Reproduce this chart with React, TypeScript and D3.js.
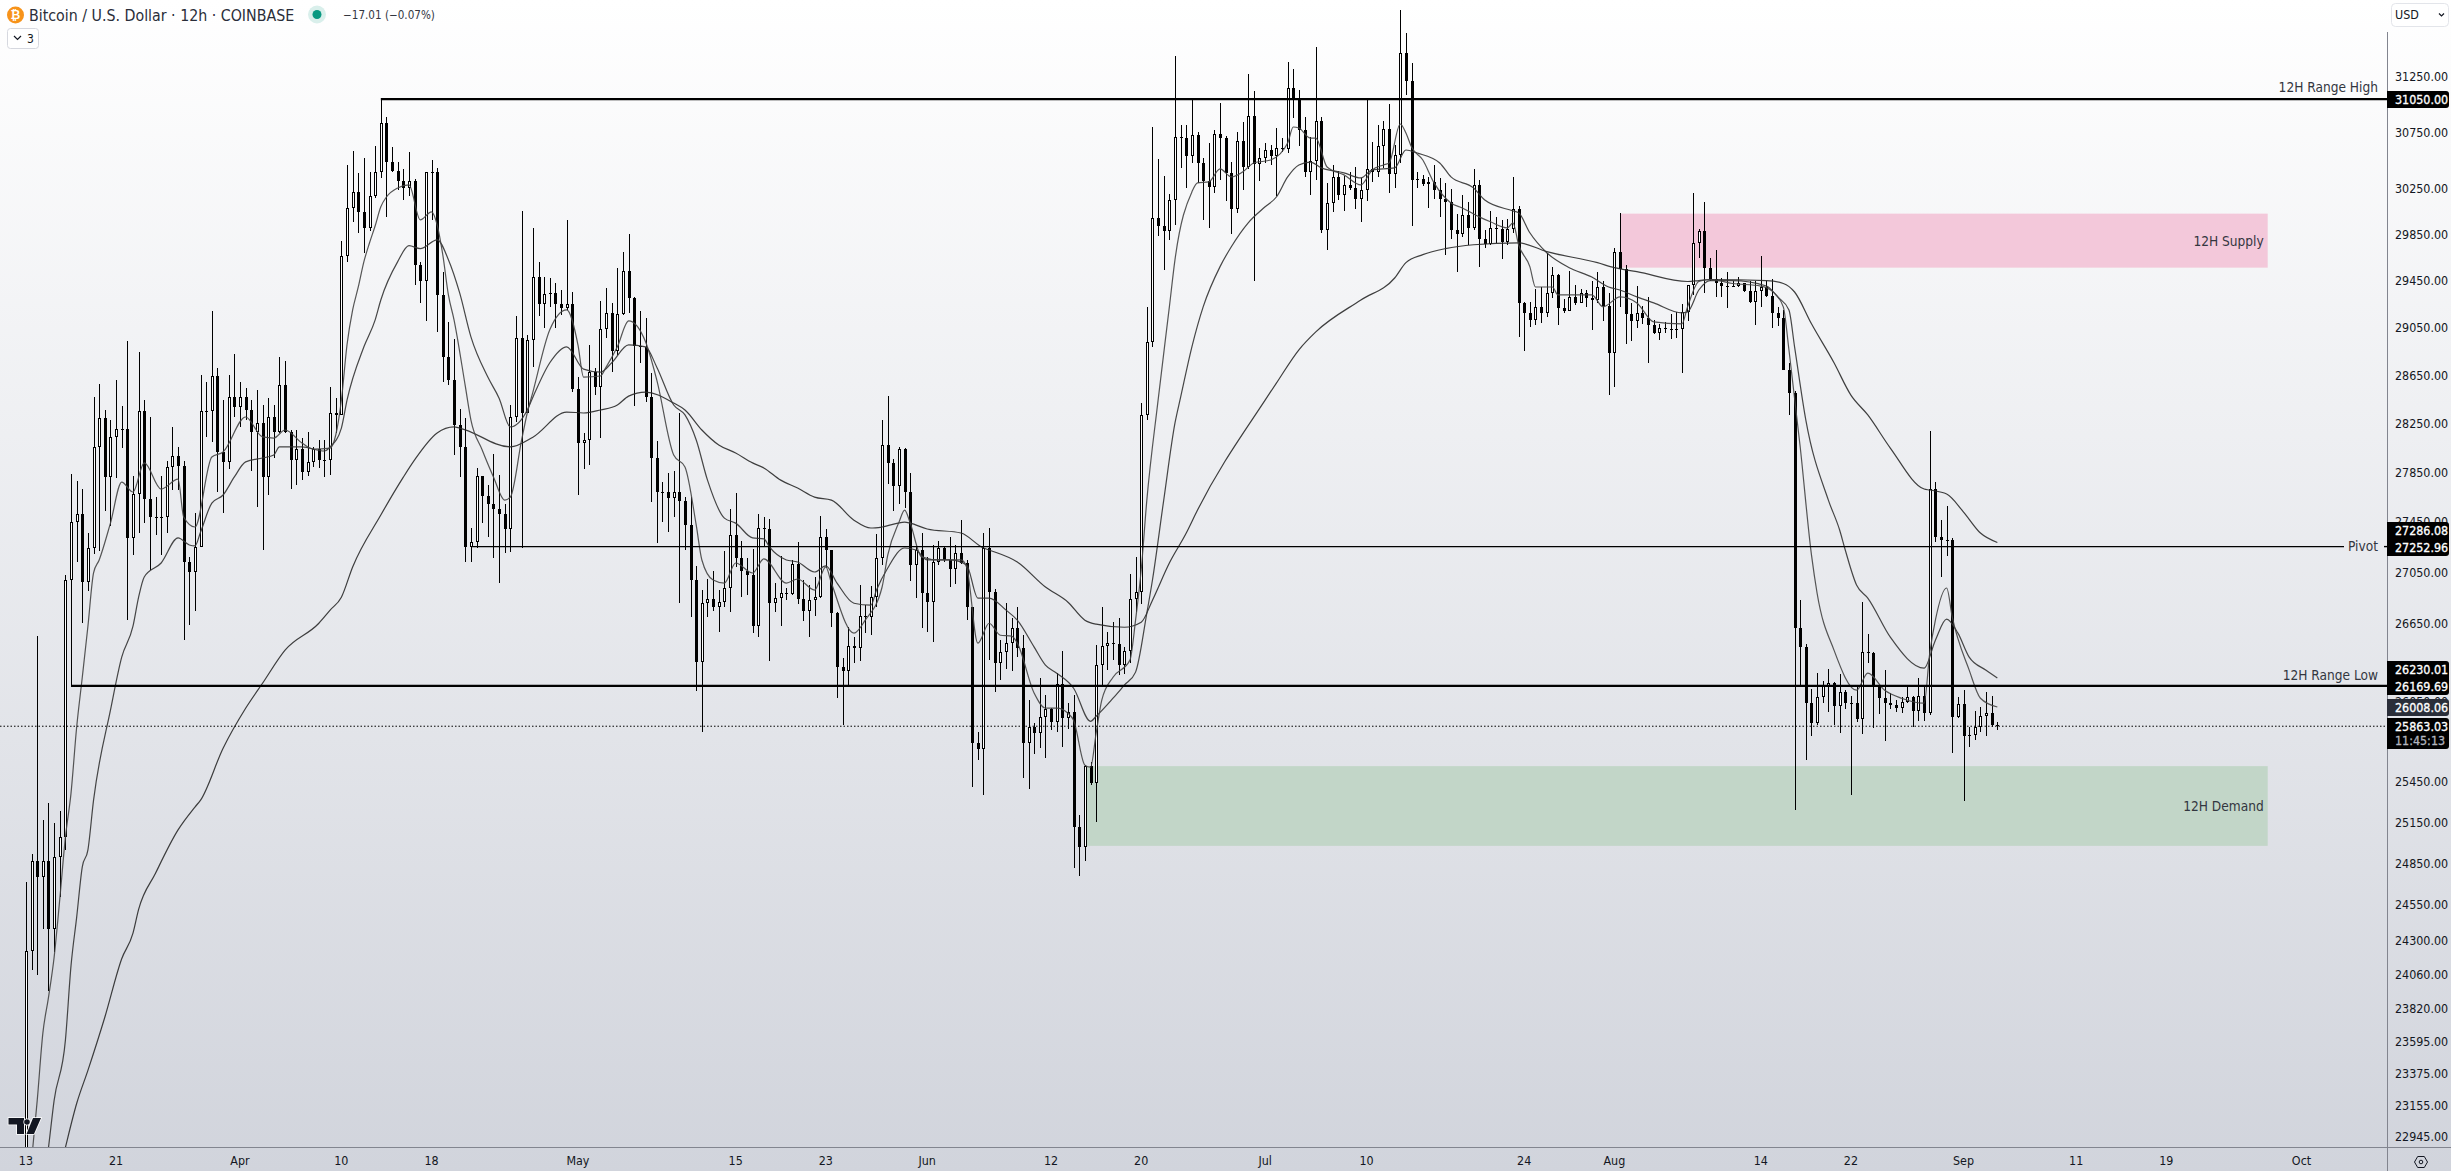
import React from "react";
import * as d3 from "d3";

// 12h BTC candles, starting 13 Mar; each bar opens at the previous close
const firstOpen = 22600;
const closes = [
  24224,24869,24754,24869,24378,24898,25042,26989,27448,27513,
  26973,27242,28056,28294,27812,28138,28203,28203,27322,27674,
  28352,27633,27489,27489,27489,27893,27982,27901,27131,27052,
  27250,28352,28352,28641,28015,27934,28467,28385,28467,28360,
  28179,28252,27812,28302,28179,28566,28179,27950,28039,27853,
  27934,28039,27950,27950,28335,28319,29664,30080,30221,30046,
  29906,30185,30397,30834,30485,30406,30317,30256,30317,29587,
  29442,30397,30397,29327,28803,28608,28236,28056,27250,27290,
  27820,27657,27593,27553,27513,27393,28302,28963,28335,28946,
  29480,29250,29335,29344,29250,29217,29250,28533,28088,28113,
  28674,28550,29038,29174,28854,29165,29535,29301,28896,28887,
  28467,27966,27690,27690,27641,27690,27617,27424,26989,26351,
  26807,26839,26776,26815,26926,27345,27163,27060,27028,26628,
  27401,27393,26807,26847,26886,26878,27115,26839,26745,26831,
  26855,27329,27226,26730,26312,26281,26474,26458,26706,26698,
  26855,27163,28072,27926,27738,28039,27690,27108,27226,26886,
  26815,27131,27242,27147,27076,27202,27123,26776,25735,25690,
  27242,26894,26343,26428,26497,26612,26458,25735,25855,25810,
  25931,25992,25893,26182,25923,25969,25115,24970,25564,25438,
  26328,26474,26497,26489,26328,26435,26839,26894,28319,28929,
  29993,29924,29880,30150,30708,30699,30539,30726,30477,30317,
  30264,30735,30699,30389,30072,30672,30441,30897,30468,30521,
  30592,30539,30610,30601,31150,31059,30771,30397,30494,30852,
  29889,30124,30353,30194,30282,30256,30159,30238,30424,30397,
  30627,30780,30380,30548,31470,31214,30326,30335,30291,30309,
  30238,30159,30133,29889,29854,30020,29906,30282,29811,29768,
  29906,29898,29785,29898,30072,29259,29174,29115,29225,29174,
  29344,29497,29217,29191,29310,29259,29344,29301,29284,29395,
  29233,28837,29699,29553,29165,29106,29174,29132,29072,29005,
  29047,29038,29038,29038,29182,29412,29776,29880,29561,29467,
  29425,29403,29403,29403,29425,29361,29267,29361,29395,29318,
  29174,29132,28691,28500,26613,26466,26037,25885,26083,26166,
  26189,26014,26121,26037,26037,25916,26428,26420,26159,26075,
  26037,26022,25999,26045,26083,25976,26090,25961,27714,27329,
  27306,27306,25931,26030,25788,25795,25855,25938,25961,25870,25863,
];
const highs = [
  24712,24919,26550,25166,25290,25144,25232,27028,27836,27778,
  27713,27361,28467,28575,28360,28277,28608,28393,28938,27820,
  28845,28442,28303,27649,27820,27942,28220,28056,27942,27171,
  27521,28649,28591,29191,28711,28442,28649,28829,28591,28542,
  28442,28525,28401,28458,28401,28803,28770,28195,28195,28129,
  28179,28056,28113,28113,28550,28458,29793,30459,30583,30389,
  30522,30397,30627,31050,30888,30618,30485,30424,30574,30335,
  29613,30397,30503,30433,29527,29098,28954,28368,28294,27400,
  27885,27820,27746,27998,27828,27593,28401,29149,30054,28988,
  29906,29613,29480,29476,29425,29369,29976,29352,28633,28170,
  28904,28708,29275,29386,29259,29561,29699,29854,29310,29191,
  29132,28666,28105,27770,27845,27861,28335,27649,27649,27100,
  26910,26997,27060,26910,27218,27553,27682,27298,27163,27234,
  27513,27489,27472,26965,27179,26926,27147,27290,26989,26950,
  27013,27497,27393,27226,26737,26381,26620,26543,26950,26792,
  26942,27353,28277,28475,27958,28056,28047,27845,27250,27361,
  27171,27266,27298,27250,27329,27266,27464,27147,26776,25818,
  27361,27401,26918,26520,26807,26690,26776,26558,26060,25885,
  26228,26098,25999,26266,26435,26037,26098,25203,25571,25593,
  26481,26776,26582,26659,26690,26466,27036,27171,28417,29225,
  30798,30512,30362,30203,31442,30816,30816,31041,30753,30521,
  30654,30771,31014,30717,30485,30753,30843,31277,31123,30610,
  30654,30636,30789,30699,31387,31323,31132,30888,30708,31526,
  30888,30300,30459,30406,30362,30397,30441,30344,31041,30663,
  30816,30852,31005,30636,31866,31650,31377,30397,30371,30353,
  30459,30344,30300,30247,30028,30194,30133,30424,30326,29889,
  30054,30002,29976,29985,30353,30098,29267,29267,29378,29395,
  29690,29570,29505,29293,29536,29412,29378,29369,29442,29527,
  29442,29344,29733,30037,29587,29259,29403,29233,29310,29115,
  29081,29098,29165,29182,29250,29412,30212,29898,30133,29648,
  29716,29476,29527,29442,29480,29433,29442,29450,29665,29442,
  29467,29225,29199,28753,28517,26831,26489,26144,26266,26204,
  26297,26197,26258,26136,26090,26174,26815,26566,26428,26166,
  26289,26113,26060,26083,26166,26090,26227,26174,28187,27770,
  27464,27577,27322,26083,26136,25855,25976,26007,26121,26090,25893,
];
const lows = [
  22500,24092,24057,24378,23940,24217,24604,24948,26166,27131,
  26652,26902,27194,27218,27537,27416,27803,28047,26675,27186,
  27361,27440,27068,27345,27186,27361,27706,27706,26520,26636,
  26745,27266,28138,28097,27690,27521,27877,28302,28220,28277,
  27861,27569,27226,27666,27966,28170,28170,27714,27746,27786,
  27820,27893,27885,27812,27828,28170,28319,29613,29959,29863,
  29690,29880,30168,30345,30002,30397,30238,30150,30185,29408,
  29259,29107,29976,29013,28591,28566,27990,27812,27131,27131,
  27242,27440,27329,27163,26965,27202,27210,28261,27242,28385,
  28716,29149,29047,29225,29047,29157,29199,28508,27666,27877,
  27909,28483,28129,28963,28674,28820,29157,29174,28393,28753,
  28425,27609,27282,27448,27369,27489,26807,27226,26698,26128,
  25818,26698,26745,26582,26776,26737,27092,26855,26870,26574,
  26543,27250,26358,26737,26628,26831,26870,26800,26667,26543,
  26706,26847,27084,26620,26075,25870,26174,26343,26358,26574,
  26558,26776,27108,27754,27537,27593,27561,26981,26847,26612,
  26582,26505,27108,27131,26934,26958,27115,26675,25408,25608,
  25349,26366,26121,26212,26297,26281,26389,25475,25394,25653,
  25698,25623,25833,25818,25705,25840,24819,24755,24869,25423,
  25151,26174,26289,26366,26250,26258,26343,26737,26800,28277,
  28887,29837,29544,29802,29932,30433,30256,30477,30300,29976,
  29906,30212,30326,30141,29854,30037,30238,30424,29442,30317,
  30477,30459,30185,30574,30565,30879,30627,30353,30194,30326,
  29863,29716,30046,30150,30054,30238,30072,29959,30141,30308,
  30353,30433,30212,30256,30477,31086,29924,30256,30273,30080,
  30159,30002,29673,29811,29527,29828,29759,29889,29570,29733,
  29759,29776,29639,29759,29863,28971,28854,29055,29072,29089,
  29140,29301,29072,29174,29191,29242,29267,29225,29030,29259,
  29106,28483,28550,29225,28912,28938,29047,29081,28753,28997,
  28946,29005,28954,28963,28666,29106,29327,29648,29344,29442,
  29310,29310,29217,29395,29395,29352,29259,29072,29225,29310,
  29047,29064,28691,28319,25239,26159,25608,25788,25870,26037,
  25969,25870,25810,25992,25349,25893,25803,26343,25848,25954,
  25750,25992,25969,25961,26037,25855,25901,25901,25946,27290,
  27013,27179,25660,25923,25305,25705,25758,25818,25788,25855,25833,
];

// moving averages: bar number and price, read at the bends of each line
const fastBars = [1,2,3,4,5,6,7,8,9,10,11,12,13,15,17,19,21,24,27,28,30,33,35,39,42,44,46,49,51,54,55,56,57,58,59,60,61,62,63,64,66,68,70,72,73,74,75,76,78,79,81,83,85,86,88,89,90,93,96,98,99,102,103,105,107,110,112,115,117,119,120,122,124,126,129,131,135,137,140,142,143,147,149,152,153,155,156,157,159,162,166,167,169,171,173,175,176,179,181,183,185,186,188,189,190,191,193,196,197,198,199,201,203,204,207,208,210,212,214,216,218,221,224,225,226,228,229,231,234,237,239,241,242,244,245,246,248,250,253,255,258,260,263,264,265,267,268,271,272,278,280,283,286,289,294,295,297,299,303,308,310,312,313,315,317,318,321,325,327,330,333,337,338,339,341,342,345,347,350];
const fastValues = [22790,23191,23650,23898,24179,24590,25039,25364,25855,26235,26628,27045,27147,27440,27770,27690,27926,27714,27794,27489,27409,27974,28015,28302,28138,28129,28195,28088,28039,28047,28154,28442,28904,29199,29395,29613,29776,29924,30090,30176,30256,30282,29976,30046,29932,29673,29327,29115,28558,28277,28031,27812,27625,27649,28113,28335,28508,29030,29199,28904,28633,28642,28716,28887,29106,28929,28608,27990,27893,27424,27147,26989,26965,27123,27044,27155,26965,26997,26910,27092,26965,26574,26675,26934,27186,27448,27545,27440,27171,27147,27147,27092,26497,26651,26558,26551,26497,26113,26000,26000,25961,25908,25571,25556,25810,26060,26235,26366,26675,27068,27625,28442,29225,29630,30221,30300,30309,30424,30353,30397,30477,30503,30654,30798,30789,30699,30699,30441,30371,30282,30415,30459,30477,30825,30744,30618,30503,30300,30124,30080,30002,29959,29906,29950,29759,29570,29395,29395,29327,29327,29225,29310,29259,29098,29081,29225,29442,29459,29425,29403,29361,29225,28862,28056,27187,26885,26443,26136,26266,26136,26075,26037,26420,26675,26926,26698,26289,26075,26008];
const midBars = [3,4,5,7,8,9,10,11,12,15,17,19,20,21,24,27,29,30,31,33,35,37,39,42,44,45,49,53,54,56,57,60,62,63,66,68,70,73,75,77,79,82,84,86,89,90,93,96,99,102,104,107,110,112,115,117,119,121,124,126,129,131,132,135,137,140,142,144,147,150,151,153,156,158,160,164,167,169,171,174,176,179,181,183,186,189,190,193,195,197,199,200,202,204,205,207,209,212,214,217,220,222,224,226,228,230,234,237,239,243,245,247,251,253,257,259,264,265,267,270,274,278,281,283,286,289,294,295,297,299,303,309,311,313,314,316,320,322,323,325,327,331,337,339,341,343,345,348,350];
const midValues = [22590,22875,23191,23600,24120,24462,24825,24948,25312,25984,26389,26628,26854,27013,27123,27322,27266,27258,27369,27601,27666,27812,27934,27966,27990,28056,28056,28023,28056,28211,28442,28887,29115,29284,29613,29751,29725,29802,29630,29344,28971,28633,28458,28220,28360,28466,28753,28887,28700,28674,28753,28904,28887,28716,28401,28319,28113,27786,27480,27440,27322,27314,27250,27147,27131,27052,27100,26965,26807,26792,26910,27084,27242,27226,27147,27147,27108,26847,26847,26753,26675,26466,26328,26266,26151,25900,25938,26075,26174,26274,26730,26989,27625,28253,28466,28887,29225,29570,29742,29950,30090,30176,30353,30459,30485,30433,30389,30344,30415,30433,30592,30565,30477,30353,30256,30150,30054,30037,29863,29690,29561,29480,29395,29369,29310,29259,29174,29182,29369,29450,29450,29403,29310,29199,28887,28277,27625,27385,27226,26950,26847,26543,26304,26520,26683,26574,26389,26289,26230];
const slowBars = [6,7,9,11,14,17,19,20,23,27,30,31,35,39,42,46,52,54,56,58,63,67,69,73,76,77,86,90,96,99,102,105,107,110,115,117,120,123,126,129,131,134,137,140,143,147,150,152,156,157,160,166,170,171,176,181,185,188,190,195,198,200,203,206,208,220,222,226,229,237,243,245,248,252,257,265,270,279,282,286,295,297,299,309,312,314,317,321,324,327,331,337,338,341,344,347,350];
const slowValues = [22720,22875,23170,23395,23760,24169,24350,24519,24778,25093,25261,25312,25698,25999,26189,26443,26651,26753,26854,27092,27505,27810,27950,28170,28220,28211,28056,28136,28343,28335,28360,28401,28475,28508,28417,28360,28195,28072,28007,27926,27885,27786,27722,27649,27625,27464,27401,27409,27448,27440,27393,27361,27242,27226,27131,26934,26815,26675,26644,26620,26659,26831,27123,27361,27545,28442,28583,28862,29013,29284,29472,29604,29673,29725,29759,29776,29699,29604,29561,29527,29442,29450,29459,29450,29425,29352,29081,28753,28483,28319,28047,27714,27706,27674,27529,27361,27286];

// price axis and time axis labels
const priceTicks = [31250,30750,30250,29850,29450,29050,28650,28250,27850,27450,27050,26650,26250,26050,25450,25150,24850,24550,24300,24060,23820,23595,23375,23155,22945];
const timeTicks: [string, string][] = [
  ["2023-03-13","13"],["2023-03-21","21"],["2023-04-01","Apr"],["2023-04-10","10"],["2023-04-18","18"],
  ["2023-05-01","May"],["2023-05-15","15"],["2023-05-23","23"],["2023-06-01","Jun"],["2023-06-12","12"],
  ["2023-06-20","20"],["2023-07-01","Jul"],["2023-07-10","10"],["2023-07-24","24"],["2023-08-01","Aug"],
  ["2023-08-14","14"],["2023-08-22","22"],["2023-09-01","Sep"],["2023-09-11","11"],["2023-09-19","19"],["2023-10-01","Oct"],
];

const W = 2451;
const H = 1171;
const plotRight = 2387;
const plotBottom = 1147;
const font = '"DejaVu Sans Condensed", "DejaVu Sans", sans-serif';

const x = d3.scaleUtc()
  .domain([new Date("2023-04-01T00:00Z"), new Date("2023-10-01T00:00Z")])
  .range([240, 2301.5]);
const y = d3.scaleLog().domain([22945, 31250]).range([1137, 77]);

const start = new Date("2023-03-13T00:00Z");
const barDate = (i: number) => d3.utcHour.offset(start, i * 12);
const bars = closes.map((close, i) => ({
  date: barDate(i),
  open: i === 0 ? firstOpen : closes[i - 1],
  close,
  high: highs[i],
  low: lows[i],
}));

const emaPath = (barIdx: number[], values: number[]) =>
  d3.line<number>()
    .x((b) => x(barDate(b)))
    .y((_, i) => y(values[i]))
    .curve(d3.curveMonotoneX)(barIdx) as string;

const Badge = ({ top, bottom, fill = "#000" }: { top: number; bottom: number; fill?: string }) => (
  <path
    d={`M${plotRight} ${top}H2446a3 3 0 0 1 3 3V${bottom - 3}a3 3 0 0 1 -3 3H${plotRight}Z`}
    fill={fill}
  />
);

const AxisText = ({ py, text, fill = "#131722", bold = false }: { py: number; text: string; fill?: string; bold?: boolean }) => (
  <text
    x={2395}
    y={py}
    dy="0.36em"
    fontSize={12.4}
    fill={fill}
    stroke={bold ? fill : "none"}
    strokeWidth={bold ? 0.3 : 0}
    fontFamily={font}
    fontStretch="condensed"
  >
    {text}
  </text>
);

export default function App() {
  const supplyLeft = x(barDate(283));
  const demandLeft = x(barDate(188));
  const zoneRight = x(new Date("2023-09-28T00:00Z"));
  return (
    <svg width={W} height={H} style={{ position: "fixed", left: 0, top: 0, display: "block" }} fontFamily={font}>
      <defs>
        <linearGradient id="bg" x1="0" y1="0" x2="0" y2="1">
          <stop offset="0" stopColor="#ffffff" />
          <stop offset="1" stopColor="#d1d4dc" />
        </linearGradient>
        <clipPath id="plot">
          <rect x={0} y={0} width={plotRight} height={plotBottom} />
        </clipPath>
      </defs>
      <rect width={W} height={H} fill="url(#bg)" />

      {/* supply and demand zones */}
      <rect x={supplyLeft} y={y(30030)} width={zoneRight - supplyLeft} height={y(29561) - y(30030)} fill="#f3c8da" />
      <rect x={demandLeft} y={y(25564)} width={zoneRight - demandLeft} height={y(24977) - y(25564)} fill="#c2d6c8" />

      {/* candles */}
      <g clipPath="url(#plot)" shapeRendering="crispEdges">
        {bars.map((d, i) => {
          const cx = Math.round(x(d.date));
          const up = d.close >= d.open;
          const top = Math.round(y(Math.max(d.open, d.close)));
          const bottom = Math.round(y(Math.min(d.open, d.close)));
          return (
            <g key={i}>
              <rect x={cx} y={y(d.high)} width={1} height={y(d.low) - y(d.high)} fill="#000" />
              <rect x={cx - 1} y={top} width={3} height={Math.max(bottom - top, 1)} fill="#000" />
              {up && bottom - top > 2 && (
                <rect x={cx} y={top + 1} width={1} height={bottom - top - 2} fill="#fff" />
              )}
            </g>
          );
        })}
      </g>

      {/* moving averages */}
      <g clipPath="url(#plot)" fill="none" strokeWidth={1.2} strokeOpacity={0.9}>
        <path d={emaPath(slowBars, slowValues)} stroke="#2a2a2a" />
        <path d={emaPath(midBars, midValues)} stroke="#333333" />
        <path d={emaPath(fastBars, fastValues)} stroke="#444444" />
      </g>

      {/* drawn levels */}
      <line x1={x(barDate(63))} x2={plotRight} y1={y(31050)} y2={y(31050)} stroke="#000" strokeWidth={2.2} />
      <line x1={x(barDate(79))} x2={2344} y1={y(27252.96)} y2={y(27252.96)} stroke="#000" strokeWidth={1.4} />
      <line x1={2384} x2={plotRight} y1={y(27252.96)} y2={y(27252.96)} stroke="#000" strokeWidth={1.4} />
      <line x1={x(barDate(8))} x2={plotRight} y1={y(26169.69)} y2={y(26169.69)} stroke="#000" strokeWidth={2.2} />
      <line x1={0} x2={plotRight} y1={y(25863.03)} y2={y(25863.03)} stroke="#000" strokeWidth={1} strokeDasharray="1.5 2" />

      <g fontSize={13.6} fill="#33363f" textAnchor="end" fontStretch="condensed">
        <text x={2378} y={87} dy="0.36em">12H Range High</text>
        <text x={2378} y={y(27252.96)} dy="0.36em">Pivot</text>
        <text x={2378} y={675} dy="0.36em">12H Range Low</text>
        <text x={zoneRight - 4} y={(y(30030) + y(29561)) / 2} dy="0.36em">12H Supply</text>
        <text x={zoneRight - 4} y={(y(25564) + y(24977)) / 2} dy="0.36em">12H Demand</text>
      </g>

      {/* axes */}
      <line x1={plotRight + 0.5} x2={plotRight + 0.5} y1={32} y2={H} stroke="#82858f" strokeWidth={1} />
      <line x1={0} x2={W} y1={plotBottom + 0.5} y2={plotBottom + 0.5} stroke="#82858f" strokeWidth={1} />
      {priceTicks.map((p) => (
        <AxisText key={p} py={y(p)} text={p.toFixed(2)} />
      ))}
      {timeTicks.map(([date, label], i) => (
        <text key={i} x={x(new Date(date + "T00:00Z"))} y={1161} dy="0.36em" fontSize={12.4} fill="#131722" textAnchor="middle" fontStretch="condensed">
          {label}
        </text>
      ))}

      {/* last value tags */}
      <Badge top={91} bottom={108} />
      <AxisText py={99.5} text="31050.00" fill="#fff" bold />
      <Badge top={522} bottom={556} />
      <AxisText py={531} text="27286.08" fill="#fff" bold />
      <AxisText py={548} text="27252.96" fill="#fff" bold />
      <Badge top={661} bottom={695} />
      <AxisText py={670} text="26230.01" fill="#fff" bold />
      <AxisText py={687} text="26169.69" fill="#fff" bold />
      <Badge top={699} bottom={716} fill="#2a2e39" />
      <AxisText py={707.5} text="26008.06" fill="#fff" bold />
      <Badge top={718} bottom={749} />
      <AxisText py={727} text="25863.03" fill="#fff" bold />
      <AxisText py={741} text="11:45:13" fill="#b2b5be" bold />

      {/* header */}
      <circle cx={15.5} cy={15} r={8.5} fill="#f7931a" />
      <text x={15.5} y={15} dy="0.36em" fontSize={12} fontWeight={700} fill="#fff" textAnchor="middle">₿</text>
      <text x={29} y={15} dy="0.36em" fontSize={15.8} fill="#2a2e39" fontStretch="condensed">Bitcoin / U.S. Dollar · 12h · COINBASE</text>
      <circle cx={317} cy={14.5} r={9} fill="#d9efeb" />
      <circle cx={317} cy={14.5} r={4.5} fill="#089981" />
      <text x={343} y={15} dy="0.36em" fontSize={11.6} fill="#33363f" fontStretch="condensed">−17.01 (−0.07%)</text>
      <rect x={7.5} y={28.5} width={31} height={20} rx={3} fill="#fff" stroke="#d6d8df" />
      <path d="M14 36l3.5 3.5 3.5-3.5" fill="none" stroke="#131722" strokeWidth={1.2} />
      <text x={27} y={39} dy="0.36em" fontSize={12} fill="#131722">3</text>

      {/* currency button */}
      <rect x={2391.5} y={3.5} width={57} height={23} rx={4} fill="#fff" stroke="#e3e5ea" />
      <text x={2395} y={15} dy="0.36em" fontSize={12.4} fill="#131722" fontStretch="condensed">USD</text>
      <path d="M2439 13.5l2.5 2.5 2.5-2.5" fill="none" stroke="#131722" strokeWidth={1.2} />

      {/* settings icon */}
      <path d="M2414.5 1162l3.2-5.5h6.6l3.2 5.5-3.2 5.5h-6.6z" fill="none" stroke="#131722" strokeWidth={1} />
      <circle cx={2421} cy={1162} r={1.8} fill="none" stroke="#131722" strokeWidth={1} />

      {/* logo */}
      <g fill="#131722" stroke="#fff" strokeWidth={1.6} paintOrder="stroke">
        <path d="M8.5 1118h15.5v16h-7v-9.5h-8.5z" />
        <circle cx={27} cy={1122} r={2.8} />
        <path d="M33 1118h8l-7 16h-7.5z" />
      </g>
    </svg>
  );
}
